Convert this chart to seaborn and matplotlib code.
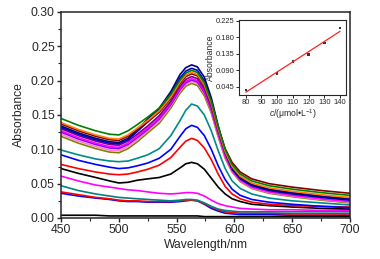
import numpy as np
import pandas as pd
import matplotlib
matplotlib.use("Agg")
import matplotlib.pyplot as plt
import seaborn as sns
from matplotlib.ticker import MultipleLocator, FormatStrFormatter

sns.set_style("ticks")
plt.rcParams['font.family'] = ['Liberation Sans', 'DejaVu Sans']
plt.rcParams['mathtext.fontset'] = 'custom'
plt.rcParams['mathtext.rm'] = 'Liberation Sans'
plt.rcParams['mathtext.it'] = 'Liberation Sans:italic'

# ---------------- data ----------------
wavelength = [450, 465, 480, 492, 500, 508, 516, 525, 535, 545, 553, 558, 563,
              568, 574, 580, 586, 592, 598, 605, 615, 630, 650, 675, 700]

k0 = [.004, .004, .004, .003, .003, .003, .003, .003, .003, .003, .003, .003, .003,
      .003, .002, .002, .002, .002, .002, .002, .002, .002, .002, .002, .002]
b0 = [.036, .032, .029, .027, .025, .024, .024, .023, .023, .023, .024, .025, .026,
      .025, .020, .014, .010, .007, .006, .005, .005, .005, .004, .004, .004]
r0 = [.038, .034, .030, .028, .026, .025, .025, .024, .024, .024, .025, .026, .026,
      .025, .021, .016, .012, .009, .008, .007, .007, .007, .006, .006, .006]
t0 = [.047, .040, .035, .032, .030, .029, .028, .027, .026, .025, .026, .027, .027,
      .026, .022, .017, .013, .011, .010, .009, .009, .009, .009, .009, .009]
m1 = [.061, .054, .048, .045, .043, .041, .040, .038, .036, .035, .036, .037, .037,
      .036, .032, .026, .021, .018, .016, .014, .013, .012, .012, .011, .011]
k1 = [.072, .065, .059, .054, .051, .052, .055, .057, .059, .064, .073, .079, .081,
      .079, .071, .058, .045, .035, .028, .024, .020, .018, .016, .014, .013]
r1 = [.078, .072, .067, .064, .063, .064, .067, .071, .077, .088, .103, .112, .116,
      .113, .102, .085, .064, .046, .035, .028, .023, .020, .018, .017, .016]
b1 = [.092, .084, .078, .074, .072, .073, .076, .080, .087, .100, .119, .130, .135,
      .132, .120, .100, .076, .056, .042, .033, .027, .023, .020, .017, .015]
t1 = [.099, .092, .086, .083, .082, .083, .087, .092, .101, .120, .142, .157, .166,
      .163, .150, .127, .098, .072, .054, .043, .035, .029, .025, .022, .019]
olive = [.119, .109, .101, .096, .095, .101, .111, .124, .138, .160, .182, .192, .196,
         .193, .178, .153, .118, .087, .067, .053, .043, .036, .031, .026, .022]
pink = [.122, .112, .104, .099, .098, .104, .114, .127, .141, .163, .185, .195, .199,
        .196, .181, .156, .120, .089, .068, .054, .044, .037, .032, .027, .023]
violet = [.125, .115, .107, .102, .101, .107, .117, .129, .144, .165, .187, .197, .201,
          .198, .183, .158, .123, .092, .072, .058, .048, .041, .036, .031, .027]
m2 = [.127, .117, .109, .104, .103, .109, .119, .131, .146, .167, .189, .199, .203,
      .200, .185, .159, .123, .090, .069, .055, .045, .038, .033, .028, .024]
purple = [.130, .120, .112, .107, .106, .112, .122, .134, .149, .170, .192, .202, .206,
          .203, .188, .162, .126, .094, .073, .059, .049, .042, .037, .032, .028]
b2 = [.132, .122, .114, .109, .108, .114, .126, .140, .157, .180, .204, .214, .218,
      .215, .200, .171, .131, .096, .071, .057, .047, .040, .035, .030, .026]
navy = [.134, .124, .116, .111, .110, .116, .129, .144, .160, .184, .209, .219, .223,
        .220, .205, .175, .134, .098, .072, .058, .048, .041, .036, .031, .027]
wine = [.137, .127, .119, .114, .113, .119, .129, .140, .154, .174, .196, .206, .210,
        .207, .192, .167, .132, .101, .081, .067, .057, .050, .045, .040, .036]
orange = [.139, .129, .121, .116, .115, .121, .131, .142, .156, .176, .198, .208, .212,
          .209, .194, .167, .130, .097, .075, .061, .051, .044, .039, .034, .030]
green = [.145, .135, .127, .122, .121, .127, .136, .147, .160, .180, .201, .211, .215,
         .212, .197, .170, .133, .100, .078, .064, .054, .047, .042, .037, .033]

series = {
    'k0': (k0, '#000000'), 'b0': (b0, '#0000FF'), 'r0': (r0, '#FF0000'),
    't0': (t0, '#008080'), 'm1': (m1, '#FF00FF'), 'k1': (k1, '#000000'),
    'r1': (r1, '#FF0000'), 'b1': (b1, '#0000FF'), 't1': (t1, '#008B8B'),
    'olive': (olive, '#808000'), 'pink': (pink, '#FF80C0'),
    'violet': (violet, '#8000FF'), 'm2': (m2, '#FF00FF'),
    'purple': (purple, '#800080'), 'b2': (b2, '#0000CD'),
    'navy': (navy, '#000080'), 'wine': (wine, '#800000'),
    'orange': (orange, '#FF8000'), 'green': (green, '#008000'),
}

conc = [80, 100, 110, 120, 130, 140]
conc_abs = [0.036, 0.082, 0.114, 0.133, 0.164, 0.206]

# ---------------- figure ----------------
fig = plt.figure(figsize=(3.8, 2.59), dpi=100)
ax = fig.add_axes([61/380, 41/259, 289/380, 206/259])

rows = []
for name, (vals, col) in series.items():
    for w, v in zip(wavelength, vals):
        rows.append((name, w, v))
df = pd.DataFrame(rows, columns=['series', 'wavelength', 'abs'])
palette = {name: col for name, (vals, col) in series.items()}
sns.lineplot(data=df, x='wavelength', y='abs', hue='series', palette=palette,
             hue_order=list(series.keys()), linewidth=1.2, legend=False, ax=ax)

ax.set_xlim(450, 700)
ax.set_ylim(0, 0.30)
ax.xaxis.set_major_locator(MultipleLocator(50))
ax.xaxis.set_minor_locator(MultipleLocator(25))
ax.yaxis.set_major_locator(MultipleLocator(0.05))
ax.yaxis.set_minor_locator(MultipleLocator(0.025))
ax.yaxis.set_major_formatter(FormatStrFormatter('%.2f'))
ax.tick_params(which='major', direction='out', length=3, width=1.0, labelsize=8.7, pad=1.5)
ax.tick_params(which='minor', direction='out', length=2, width=0.8)
for s in ax.spines.values():
    s.set_linewidth(1.1)
    s.set_visible(True)
ax.set_xlabel('Wavelength/nm', fontsize=8.7, labelpad=2)
ax.set_ylabel('Absorbance', fontsize=8.7, labelpad=4)

# inset
ins = fig.add_axes([239/380, 1 - 95/259, 107/380, 75/259])
ins_df = pd.DataFrame({'c': conc, 'a': conc_abs})
sns.regplot(data=ins_df, x='c', y='a', ci=None, scatter=False,
            line_kws={'color': '#FF2020', 'linewidth': 0.9}, ax=ins)
sns.scatterplot(data=ins_df, x='c', y='a', marker='s', s=3, color='#333333',
                edgecolor='none', ax=ins)
ins.set_xlim(75.7, 143.8)
ins.set_ylim(0.023, 0.227)
ins.set_xticks([80, 90, 100, 110, 120, 130, 140])
ins.set_yticks([0.045, 0.090, 0.135, 0.180, 0.225])
ins.yaxis.set_major_formatter(FormatStrFormatter('%.3f'))
ins.tick_params(direction='out', length=2, width=0.7, labelsize=5.4, pad=1)
for s in ins.spines.values():
    s.set_linewidth(0.8)
    s.set_visible(True)
ins.set_xlabel(r'$c$/(μmol•L$^{-1}$)', fontsize=6.2, labelpad=1)
ins.set_ylabel('Absorbance', fontsize=6.2, labelpad=1)

fig.savefig('out.png', dpi=100)
